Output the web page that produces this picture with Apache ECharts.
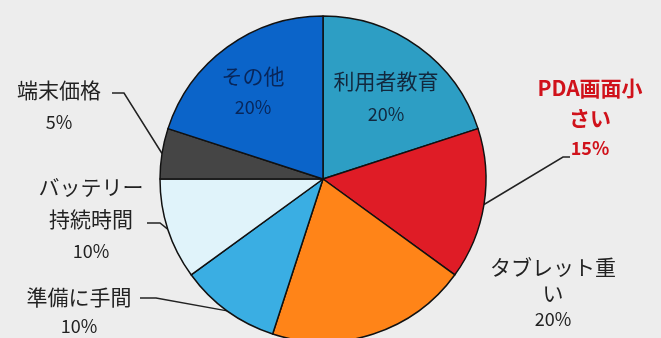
<!DOCTYPE html>
<html><head><meta charset="utf-8">
<script src="https://cdn.jsdelivr.net/npm/echarts@6/dist/echarts.min.js"></script>
<style>html,body{margin:0;padding:0;background:#ededed}#c{width:661px;height:338px}</style>
</head><body><div id="c"></div>
<script>
// ---- data ----
const categories = ['利用者教育','PDA画面小さい','タブレット重い','準備に手間','バッテリー持続時間','端末価格','その他'];
const labelLines = [['利用者教育'],['PDA画面小','さい'],['タブレット重','い'],['準備に手間'],['バッテリー','持続時間'],['端末価格'],['その他']];
const shares = [20,15,20,10,10,5,20];

// ---- styles / layout ----
const sliceColors = ['#2d9ec4','#df1c26','#ff8418','#3aaee3','#e0f3fa','#454545','#0b64c9'];
const textColors  = ['#12283e','#d0121b','#222222','#222222','#222222','#222222','#08265a'];
const inside = [true,false,false,false,false,false,true];
// label block: center x, top y, line height, leader bend points (after the edge point)
const labelPlace = [
  {x:386, y:65, lh:33, line:null},
  {x:590, y:73, lh:30, line:[[563,157],[570,157]]},
  {x:553, y:254, lh:26, line:null},
  {x:79,  y:283, lh:29, line:[[156,298],[140,298]]},
  {x:91,  y:171, lh:32, line:[[160,223],[147,223]]},
  {x:59,  y:74,  lh:32, line:[[124,93],[112,93]]},
  {x:253, y:61,  lh:31, line:null}
];
const FONT = '"Noto Sans CJK JP", "Noto Sans", sans-serif';

const chart = echarts.init(document.getElementById('c'), null, {renderer:'canvas'});
const data = categories.map((name, i) => {
  const lp = labelPlace[i];
  const bold = i === 1 ? 'bold' : 'normal';
  return {
    name: name,
    value: shares[i],
    itemStyle: {color: sliceColors[i]},
    label: {
      show: true,
      position: inside[i] ? 'inside' : 'outside',
      formatter: () => labelLines[i].map(t => '{n|' + t + '}').join('\n') + '\n{p|' + shares[i] + '%}',
      rich: {
        n: {fontSize: 21, fontFamily: FONT, color: textColors[i], fontWeight: bold, lineHeight: lp.lh, align: 'center'},
        p: {fontSize: 18, fontFamily: FONT, color: textColors[i], fontWeight: bold, lineHeight: lp.lh, align: 'center'}
      }
    },
    labelLine: {show: !!lp.line}
  };
});

chart.setOption({
  backgroundColor: '#ededed',
  animation: false,
  series: [{
    type: 'pie',
    center: [323, 179],
    radius: 163,
    startAngle: 90,
    clockwise: true,
    avoidLabelOverlap: false,
    data: data,
    itemStyle: {borderColor: '#111', borderWidth: 1.5},
    labelLine: {lineStyle: {color: '#222', width: 1.5}, length: 10, length2: 10},
    emphasis: {disabled: true},
    labelLayout: function (params) {
      const lp = labelPlace[params.dataIndex];
      const res = {x: lp.x, y: lp.y, align: 'center', verticalAlign: 'top'};
      if (lp.line && params.labelLinePoints) {
        res.labelLinePoints = [params.labelLinePoints[0]].concat(lp.line);
      }
      return res;
    }
  }]
});
</script>
</body></html>
